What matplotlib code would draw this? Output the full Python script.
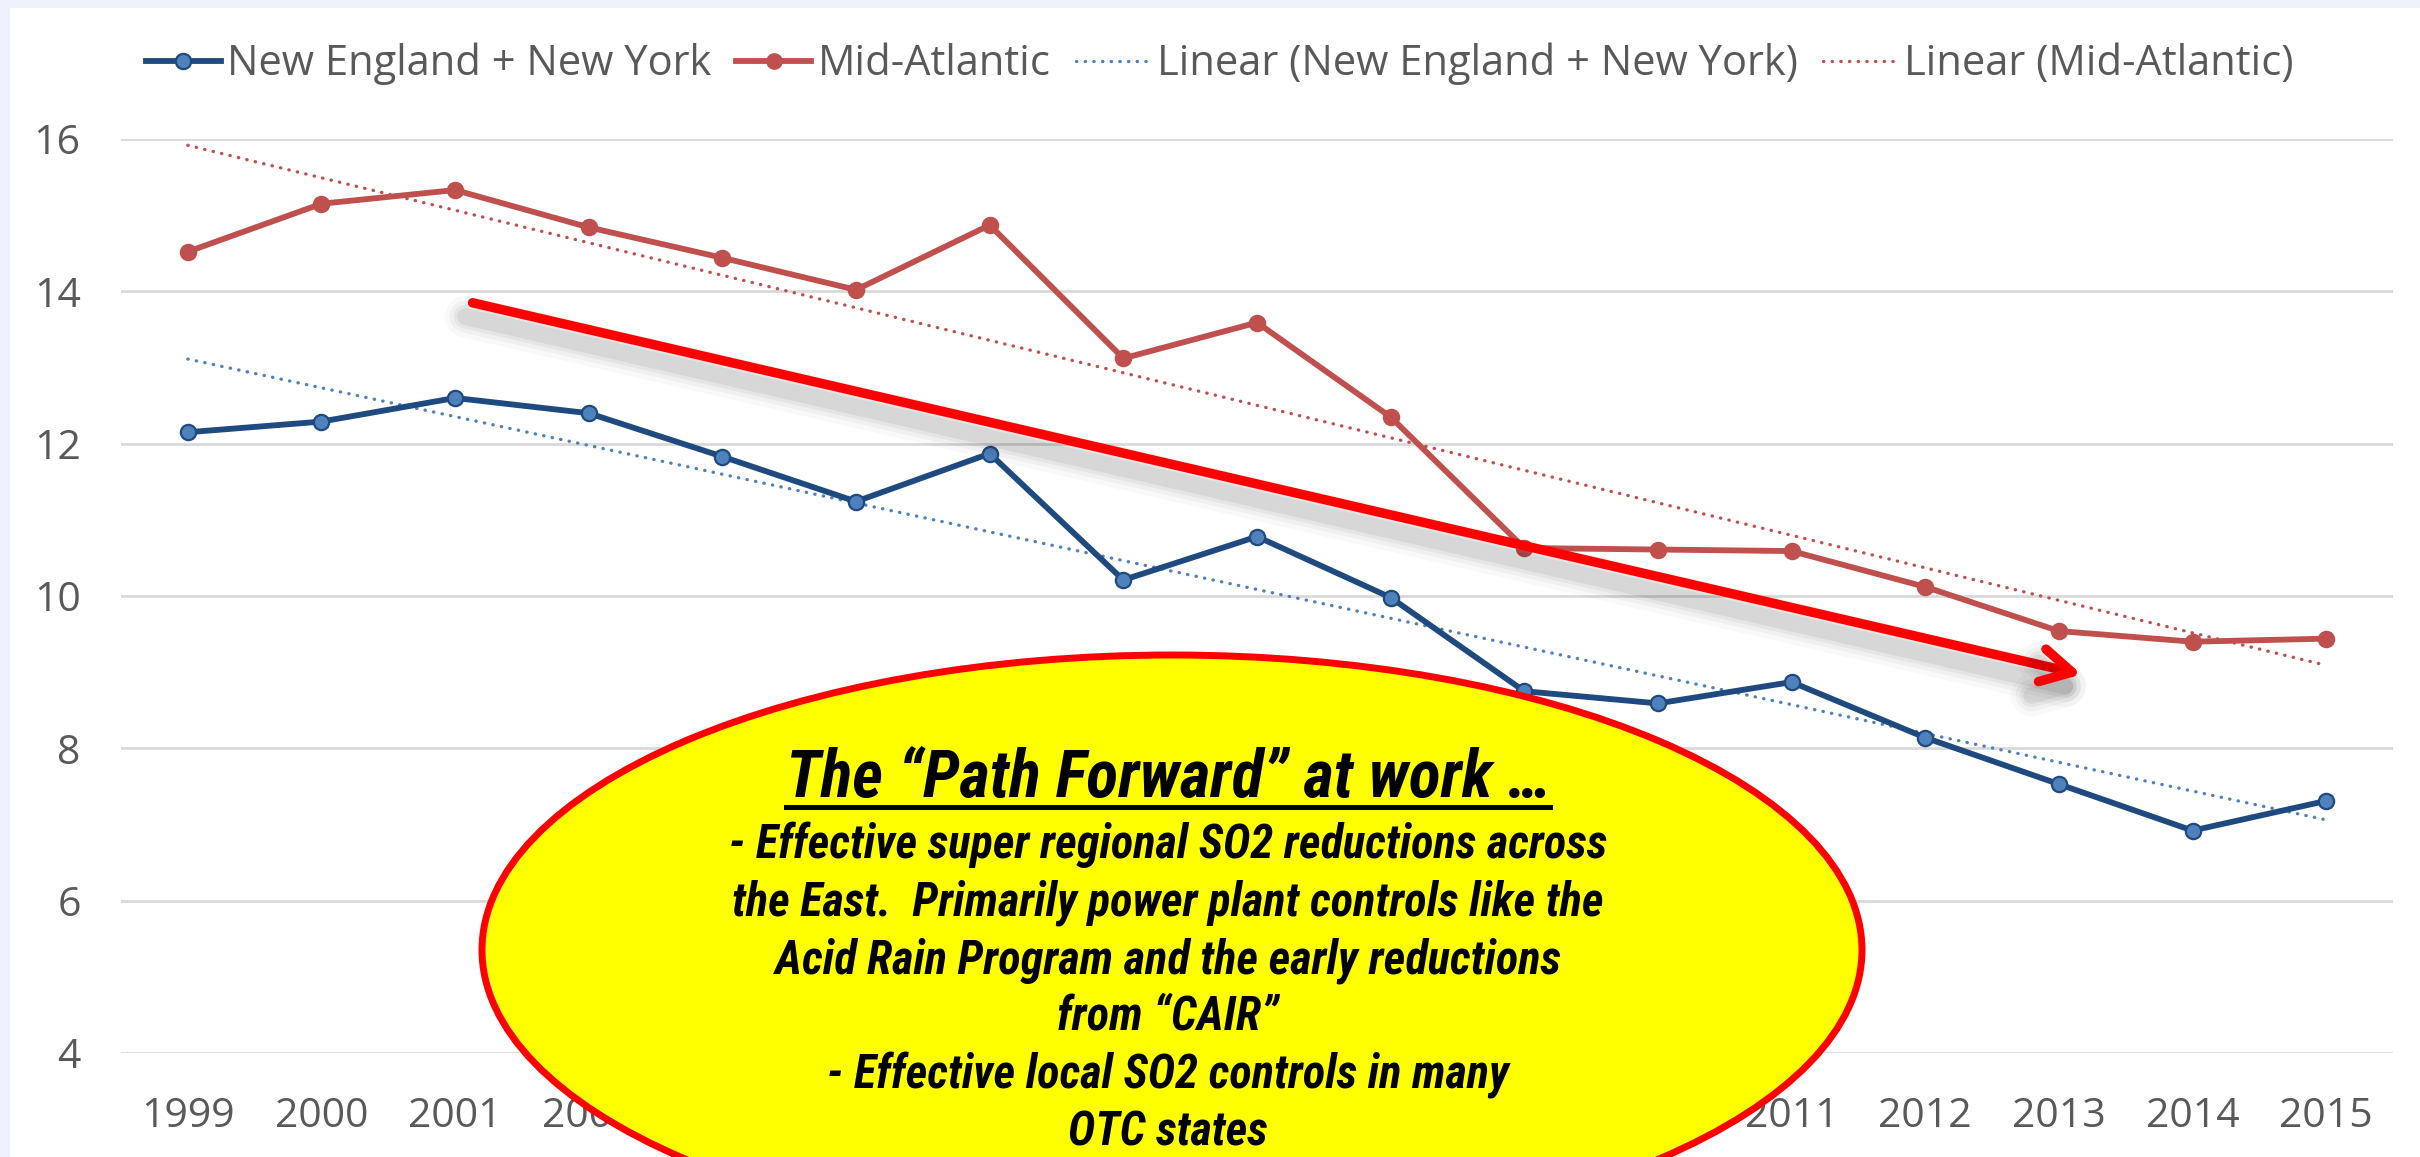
import numpy as np
import matplotlib
matplotlib.use("Agg")
import matplotlib.pyplot as plt
import matplotlib.patheffects as pe
from matplotlib.patches import Ellipse, Rectangle
from matplotlib.lines import Line2D
from matplotlib import font_manager

# ---- data ----
years = list(range(1999, 2016))
new_england_ny = [12.15, 12.29, 12.60, 12.40, 11.83, 11.24, 11.87, 10.21, 10.78,
                  9.98, 8.75, 8.59, 8.87, 8.14, 7.53, 6.92, 7.31]
mid_atlantic = [14.52, 15.15, 15.33, 14.84, 14.44, 14.02, 14.87, 13.12, 13.59,
                12.35, 10.63, 10.61, 10.59, 10.12, 9.54, 9.40, 9.44]
y_ticks = [4, 6, 8, 10, 12, 14, 16]
legend_labels = ["New England + New York", "Mid-Atlantic",
                 "Linear (New England + New York)", "Linear (Mid-Atlantic)"]

# big red "trend" arrow, in data coords
arrow_start = (2001.13, 13.85)
arrow_end = (2013.17, 8.97)

callout_title = "The \u201cPath Forward\u201d at work \u2026"
callout_lines = [
    "- Effective super regional SO2 reductions across",
    "the East.  Primarily power plant controls like the",
    "Acid Rain Program and the early reductions",
    "from \u201cCAIR\u201d",
    "- Effective local SO2 controls in many",
    "OTC states",
]

# ---- fonts ----
available = {f.name for f in font_manager.fontManager.ttflist}

def pick(*names):
    for n in names:
        if n in available:
            return n
    return "DejaVu Sans"

label_font = pick("Open Sans", "Lato", "DejaVu Sans")
callout_font = pick("Liberation Sans Narrow", "Noto Sans Condensed", "Roboto Condensed",
                    "Open Sans Condensed", "Roboto", "Open Sans")
plt.rcParams["font.family"] = [label_font, "DejaVu Sans"]

W, H = 2420, 1157
NE_COL = "#1F4A7F"
NE_FACE = "#4F81BD"
MA_COL = "#C0504D"
TEXT_GREY = "#595959"
DOTS = (0, (0.1, 2.5))

fig = plt.figure(figsize=(W / 100, H / 100), dpi=100, facecolor="#EEF2FC")
fig.add_artist(Rectangle((10 / W, 0), 1, 1 - 8 / H, transform=fig.transFigure,
                         facecolor="white", edgecolor="none", zorder=-10))

ax = fig.add_axes([121 / W, 1 - 1053 / H, (2393 - 121) / W, (1053 - 139) / H])
ax.set_facecolor("white")

x = np.array(years)

# trend lines (least squares, like Excel's linear trendline)
for vals, col in [(new_england_ny, NE_FACE), (mid_atlantic, MA_COL)]:
    k, b = np.polyfit(x, vals, 1)
    ax.plot(x, k * x + b, color=col, lw=2.4, linestyle=DOTS,
            dash_capstyle="round", zorder=2)

ax.plot(years, new_england_ny, color=NE_COL, lw=4.2, marker="o", ms=11,
        mfc=NE_FACE, mec=NE_COL, mew=1.6, zorder=3)
ax.plot(years, mid_atlantic, color=MA_COL, lw=4.2, marker="o", ms=11,
        mfc=MA_COL, mec=MA_COL, mew=1.6, zorder=3)

ax.set_xlim(1998.5, 2015.5)
ax.set_ylim(4, 16)
ax.set_xticks(years)
ax.set_yticks(y_ticks)
ax.grid(axis="y", color="#D9D9D9", lw=2)
ax.set_axisbelow(True)
for s in ax.spines.values():
    s.set_visible(False)
ax.tick_params(axis="both", length=0, labelsize=29.5, labelcolor=TEXT_GREY)
ax.tick_params(axis="y", pad=29)
ax.tick_params(axis="x", pad=31)

# arrow with a soft drop shadow
shadow = [pe.SimpleLineShadow(offset=(-5, -10), shadow_color="black", alpha=a, linewidth=w)
          for w, a in [(30, 0.025), (23, 0.035), (17, 0.045), (12, 0.06)]]
ax.annotate("", xy=arrow_end, xytext=arrow_start,
            arrowprops=dict(arrowstyle="->,head_length=1.1,head_width=0.6",
                            color="#FF0000", lw=6.8, shrinkA=0, shrinkB=0,
                            mutation_scale=20,
                            path_effects=shadow + [pe.Normal()]),
            zorder=6)

# legend
handles = [
    Line2D([], [], color=NE_COL, lw=4.2, marker="o", ms=11, mfc=NE_FACE, mec=NE_COL, mew=1.6),
    Line2D([], [], color=MA_COL, lw=4.2, marker="o", ms=11, mfc=MA_COL, mec=MA_COL),
    Line2D([], [], color=NE_FACE, lw=2.4, linestyle=DOTS, dash_capstyle="round"),
    Line2D([], [], color=MA_COL, lw=2.4, linestyle=DOTS, dash_capstyle="round"),
]
fig.legend(handles, legend_labels, loc="center", bbox_to_anchor=(0.504, 1 - 64 / H),
           ncol=4, frameon=False, fontsize=30, labelcolor=TEXT_GREY,
           handlelength=1.8, handletextpad=0.15, columnspacing=0.6,
           borderaxespad=0, borderpad=0, numpoints=1)

# yellow callout bubble
e_center = (1172 / W, 1 - 950 / H)
e_w, e_h = 1380 / W, 590 / H
fig.add_artist(Ellipse(e_center, e_w, e_h, transform=fig.transFigure,
                       facecolor="#FFFF00", edgecolor="#FF0000", lw=5, zorder=5))

cx = 1168 / W
title_txt = fig.text(cx, 1 - 797 / H, callout_title, ha="center", va="baseline",
                     fontsize=47.5, fontweight="bold", fontstyle="italic",
                     family=[callout_font, "DejaVu Sans"], color="black", zorder=6)
baselines = [858, 915, 973, 1030, 1087, 1145]
for line, yb in zip(callout_lines, baselines):
    fig.text(cx, 1 - yb / H, line, ha="center", va="baseline", fontsize=33.5,
             fontweight="bold", fontstyle="italic",
             family=[callout_font, "DejaVu Sans"], color="black", zorder=6)

fig.canvas.draw()
renderer = fig.canvas.get_renderer()

# underline the callout title
bb = title_txt.get_window_extent(renderer)
uy = (H - 807) / H
fig.add_artist(Line2D([bb.x0 / W, bb.x1 / W], [uy, uy], transform=fig.transFigure,
                      color="black", lw=3.6, zorder=6))

# year labels that sit wholly under the bubble are hidden, as in the original
def inside(px, py):
    ex, ey = e_center[0] * W, e_center[1] * H
    return ((px - ex) / (e_w * W / 2)) ** 2 + ((py - ey) / (e_h * H / 2)) ** 2 <= 1

for lab in ax.get_xticklabels():
    b2 = lab.get_window_extent(renderer)
    if all(inside(px, py) for px in (b2.x0, b2.x1) for py in (b2.y0, b2.y1)):
        lab.set_visible(False)

fig.savefig("out.png", dpi=100, facecolor=fig.get_facecolor())
